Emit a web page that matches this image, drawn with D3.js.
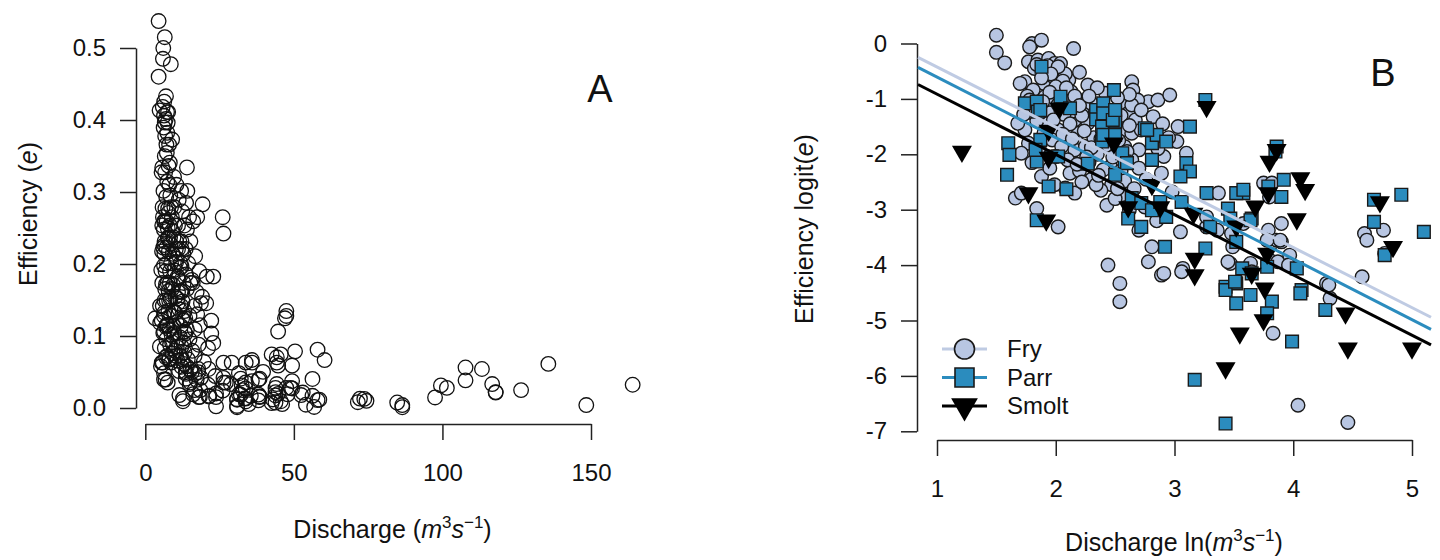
<!DOCTYPE html>
<html>
<head>
<meta charset="utf-8">
<script src="https://cdn.jsdelivr.net/npm/d3@7"></script>
<style>
  body { margin: 0; background: #fff; }
  svg text { font-family: "Liberation Sans", Arial, sans-serif; fill: #111; }
</style>
</head>
<body>
<div id="chart"></div>
<script>
// points as [ln discharge, logit efficiency]; panel A shows the same points back-transformed
var fryPts = [
  [1.50,0.15],[1.50,-0.16],[1.57,-0.35],[1.80,0.00],[1.88,0.06],[1.78,-0.06],[2.15,-0.09],
  [1.77,-0.33],[1.85,-0.30],[1.94,-0.27],[1.99,-0.36],[2.04,-0.36],
  [1.74,-0.69],[1.70,-0.72],[1.90,-0.72],[1.98,-0.60],[2.11,-0.66],[2.27,-0.75],[1.81,-0.84],
  [2.64,-0.69],[2.65,-0.84],[2.78,-1.05],[2.69,-1.02],
  [2.13,-0.87],[2.19,-1.02],[2.25,-1.17],[2.11,-1.08],[2.05,-0.99],
  [1.91,-0.96],[1.97,-1.05],[1.83,-1.11],[2.30,-1.08],[2.33,-1.26],[2.27,-1.44],
  [2.16,-1.38],[2.11,-1.56],[2.19,-1.62],[2.08,-1.74],[2.16,-1.92],[2.25,-1.86],
  [2.58,-1.08],[2.61,-1.26],[2.67,-1.38],[2.56,-1.56],[2.64,-1.62],[2.72,-1.56],[2.58,-1.86],[2.70,-1.92],[2.64,-2.10],
  [1.74,-1.56],[1.68,-1.44],[1.77,-1.80],[1.71,-1.98],
  [2.02,-1.56],[1.97,-1.74],[2.05,-1.86],[2.00,-2.04],[2.86,-1.02],
  [1.66,-2.79],[1.84,-2.98],[2.02,-3.31],[1.71,-2.70],
  [2.12,-2.34],[2.08,-2.61],[2.16,-2.70],
  [2.43,-2.92],[2.44,-4.00],[2.54,-4.33],[2.54,-4.66],
  [2.81,-3.67],[2.78,-3.94],[2.89,-4.18],[2.70,-3.37],
  [2.47,-2.55],[2.56,-2.73],[1.88,-2.40],[1.99,-2.55],
  [2.96,-0.93],[2.64,-1.11],[3.03,-1.50],[3.02,-1.77],[3.10,-1.98],
  [3.05,-3.40],[3.07,-4.06],[3.27,-3.31],[3.36,-3.37],[3.37,-2.70],[3.47,-3.97],
  [3.75,-2.52],[3.80,-2.77],[3.90,-3.25],[3.79,-3.37],[3.86,-3.55],[3.90,-3.58],[3.80,-3.91],[3.87,-3.94],[3.97,-3.82],
  [4.58,-4.21],[4.60,-3.43],[4.62,-3.55],[4.76,-3.37],[4.77,-3.79],
  [2.91,-2.04],[2.89,-2.34],[2.98,-2.68],[3.82,-2.52],
  [3.78,-3.55],[3.89,-3.55],[3.96,-4.00],
  [3.48,-3.43],[3.49,-3.67],[3.45,-3.94],[3.64,-3.97],[3.65,-4.12],[2.91,-4.15],
  [4.28,-4.33],[3.27,-3.13],[3.58,-3.25],
  [3.06,-4.12],[3.83,-5.23],[4.04,-6.53],[4.31,-4.60],[4.46,-6.84],[4.30,-4.36],
  [1.82,-0.45],[1.90,-0.50],[2.00,-0.48],[2.08,-0.55],[2.20,-0.52],[1.76,-0.95],
  [1.86,-1.30],[1.95,-1.25],[2.04,-1.18],[2.14,-1.22],[2.22,-1.30],[2.36,-1.34],
  [2.44,-1.20],[2.40,-1.52],[2.48,-1.64],[2.32,-1.70],[2.44,-1.84],[2.52,-1.95],
  [2.35,-2.00],[2.28,-2.15],[2.46,-2.22],[2.55,-2.30],[2.70,-2.25],[2.76,-2.45],
  [1.92,-1.45],[1.80,-1.25],[2.10,-2.10],[2.20,-2.30],[2.30,-2.45],[2.38,-2.65],
  [1.95,-2.25],[1.80,-2.15],[2.62,-0.92],[2.52,-0.98],[2.72,-1.20],[2.82,-1.32],
  [2.90,-1.45],[2.95,-1.70],[2.86,-1.90],[2.42,-0.90],[2.35,-0.80],
  [1.84,-0.38],[1.93,-0.40],[2.02,-0.42],[1.96,-0.55],[2.06,-0.68],[1.88,-0.62],
  [2.00,-0.78],[2.09,-0.80],[1.95,-0.88],[2.16,-0.95],[2.02,-1.10],[1.89,-1.05],
  [2.07,-1.28],[1.98,-1.38],[2.12,-1.45],[2.20,-1.12],[2.28,-0.95],[2.24,-1.58],
  [2.06,-1.64],[1.90,-1.62],[1.84,-1.40],[2.14,-1.72],[2.30,-1.88],[2.38,-1.72],
  [2.46,-1.42],[2.55,-1.30],[2.62,-1.48],[2.53,-1.75],[2.60,-1.95],[2.48,-2.05],
  [2.40,-2.28],[2.58,-2.48],[2.66,-2.62],[2.34,-2.55],[2.22,-2.50],[2.50,-2.80],
  [2.62,-3.00],[2.75,-2.95],[2.85,-3.20],[1.78,-1.02],[1.73,-1.28],[1.86,-1.88],
  [2.26,-2.05],[2.18,-2.18],[2.36,-2.38],[2.52,-2.62]
];
var parrPts = [
  [1.88,-0.42],[1.74,-1.08],[1.84,-1.05],[1.85,-1.23],[2.04,-0.96],[2.12,-1.17],
  [1.60,-1.80],[1.61,-2.01],[1.59,-2.37],[1.84,-2.13],[1.94,-2.58],[2.09,-2.63],[1.84,-3.19],
  [2.27,-2.17],[2.34,-1.20],[2.34,-1.37],[2.49,-0.84],[1.87,-1.20],[2.40,-1.08],
  [2.50,-1.26],[2.50,-1.41],[2.39,-1.50],[2.39,-1.77],[2.75,-1.53],[2.81,-1.80],[2.85,-1.65],
  [1.87,-1.74],[1.83,-1.92],[1.97,-2.04],[2.02,-2.04],[2.58,-2.13],[2.56,-1.98],[2.81,-2.10],
  [2.50,-2.37],[2.64,-2.79],[2.72,-2.88],[2.61,-3.16],[2.72,-3.31],[2.81,-3.01],[2.88,-2.86],[2.92,-3.67],
  [2.40,-1.26],[2.48,-1.38],[2.50,-1.20],[2.40,-1.65],[2.50,-1.65],
  [3.13,-1.50],[2.77,-1.56],[2.93,-1.77],[3.10,-2.16],[3.13,-2.31],[3.05,-2.40],[2.60,-2.16],
  [3.26,-1.02],[3.26,-3.70],[3.27,-2.70],[3.58,-2.70],[3.52,-2.70],[3.45,-2.98],
  [3.92,-2.46],[3.90,-2.77],[3.65,-3.16],[3.86,-1.86],[3.85,-1.95],[4.03,-4.06],[3.78,-4.03],
  [4.68,-2.82],[4.68,-3.22],[4.91,-2.73],[5.10,-3.40],[4.77,-3.82],
  [3.58,-2.64],[3.47,-3.16],[3.64,-3.19],[3.79,-2.58],[3.06,-2.86],[2.93,-3.13],[3.30,-3.31],
  [3.52,-3.58],[3.57,-4.06],[3.65,-4.15],[3.43,-4.39],[3.52,-4.33],[4.07,-4.45],
  [3.43,-4.45],[3.51,-4.30],[3.52,-4.69],[3.64,-4.54],[3.82,-4.66],[3.78,-4.87],
  [4.06,-4.51],[4.27,-4.81],[3.99,-5.38],[3.17,-6.07],[3.43,-6.86]
];
var smoltPts = [
  [1.21,-1.95],[2.03,-1.17],[1.94,-1.57],[1.94,-2.06],[1.77,-2.70],[1.92,-3.19],
  [2.49,-1.80],[2.61,-2.95],[2.81,-2.55],[2.88,-2.95],[3.27,-1.14],
  [3.86,-1.92],[3.80,-2.13],[4.06,-2.43],[4.10,-2.64],[3.16,-3.07],[3.52,-3.30],
  [3.68,-2.94],[3.79,-2.70],[4.03,-3.17],[3.78,-3.79],[3.17,-3.88],[3.17,-4.18],
  [4.73,-2.86],[4.84,-3.67],[3.65,-4.15],[3.76,-4.42],[3.75,-4.99],[3.55,-5.23],
  [3.43,-5.86],[4.44,-4.87],[4.46,-5.50],[5.00,-5.50]
];

var stageNames = ["Fry", "Parr", "Smolt"];
var lineIntercepts = [0.662, 0.49, 0.174];
var lineSlopes = [-1.086, -1.095, -1.088];

var ticksAx = [0, 50, 100, 150];
var ticksAy = [0, 0.1, 0.2, 0.3, 0.4, 0.5];
var ticksBx = [1, 2, 3, 4, 5];
var ticksBy = [0, -1, -2, -3, -4, -5, -6, -7];

var stageFill = ["#b8c6e2", "#2b8cbe", "#000000"];
var stageLine = ["#bfcbe3", "#2b8cbe", "#000000"];
var stageSymbol = [d3.symbolCircle, d3.symbolSquare, d3.symbolTriangle];
var stagePts = [fryPts, parrPts, smoltPts];

var svg = d3.select("#chart").append("svg")
  .attr("width", 1440)
  .attr("height", 560);

function styleAxis(g) {
  g.attr("font-size", 24);
  g.select(".domain").attr("stroke", "#222").attr("stroke-width", 1.5);
  g.selectAll(".tick line").attr("stroke", "#222").attr("stroke-width", 1.5);
}

// superscript pieces of the discharge unit
function unitLabel(t, prefix) {
  t.append("tspan").text(prefix);
  t.append("tspan").attr("font-style", "italic").text("m");
  t.append("tspan").attr("dy", -10).attr("font-size", 17).text("3");
  t.append("tspan").attr("dy", 10).attr("font-style", "italic").text("s");
  t.append("tspan").attr("dy", -10).attr("font-size", 17).text("\u22121");
  t.append("tspan").attr("dy", 10).text(")");
}

function effLabel(t, prefix) {
  t.append("tspan").text(prefix);
  t.append("tspan").attr("font-style", "italic").text("e");
  t.append("tspan").text(")");
}

// ---- panel A ----
var xA = d3.scaleLinear().domain([0, 150]).range([145.3, 591]);
var yA = d3.scaleLinear().domain([0, 0.5]).range([408, 48]);

svg.append("g")
  .attr("transform", "translate(136,0)")
  .call(d3.axisLeft(yA).tickValues(ticksAy).tickFormat(d3.format(".1f")).tickSize(16).tickPadding(14).tickSizeOuter(0))
  .call(styleAxis);

svg.append("g")
  .attr("transform", "translate(0,424)")
  .call(d3.axisBottom(xA).tickValues(ticksAx).tickFormat(String).tickSize(16).tickPadding(24).tickSizeOuter(0))
  .call(styleAxis);

var allPts = fryPts.concat(parrPts, smoltPts);
svg.append("g").selectAll("circle")
  .data(allPts)
  .join("circle")
  .attr("cx", function (d) { return xA(Math.exp(d[0])); })
  .attr("cy", function (d) { return yA(1 / (1 + Math.exp(-d[1]))); })
  .attr("r", 7.3)
  .attr("fill", "none")
  .attr("stroke", "#111")
  .attr("stroke-width", 1.3);

unitLabel(svg.append("text").attr("x", 392.5).attr("y", 538).attr("text-anchor", "middle").attr("font-size", 25), "Discharge (");
effLabel(svg.append("text").attr("transform", "translate(37,214) rotate(-90)").attr("text-anchor", "middle").attr("font-size", 25), "Efficiency (");
svg.append("text").attr("x", 600).attr("y", 102).attr("text-anchor", "middle").attr("font-size", 38).text("A");

// ---- panel B ----
var xB = d3.scaleLinear().domain([1, 5]).range([937, 1412]);
var yB = d3.scaleLinear().domain([0, -7]).range([43.5, 431.3]);
var xLeft = 0.84, xRight = 5.16;

svg.append("g")
  .attr("transform", "translate(917,0)")
  .call(d3.axisLeft(yB).tickValues(ticksBy).tickFormat(String).tickSize(16).tickPadding(14).tickSizeOuter(0))
  .call(styleAxis);

svg.append("g")
  .attr("transform", "translate(0,440)")
  .call(d3.axisBottom(xB).tickValues(ticksBx).tickFormat(String).tickSize(16).tickPadding(24).tickSizeOuter(0))
  .call(styleAxis);

var symSize = [Math.PI * 6.8 * 6.8, 12.7 * 12.7, 173];
stagePts.forEach(function (pts, i) {
  svg.append("g").selectAll("path")
    .data(pts)
    .join("path")
    .attr("transform", function (d) {
      return "translate(" + xB(d[0]) + "," + yB(d[1]) + ")" + (i === 2 ? " rotate(180)" : "");
    })
    .attr("d", d3.symbol(stageSymbol[i], symSize[i]))
    .attr("fill", stageFill[i])
    .attr("stroke", i === 2 ? "none" : "#1a1a1a")
    .attr("stroke-width", 1.4);
});

stageNames.forEach(function (s, i) {
  svg.append("line")
    .attr("x1", xB(xLeft)).attr("y1", yB(lineIntercepts[i] + lineSlopes[i] * xLeft))
    .attr("x2", xB(xRight)).attr("y2", yB(lineIntercepts[i] + lineSlopes[i] * xRight))
    .attr("stroke", stageLine[i])
    .attr("stroke-width", 3);
});

// legend
var legSize = [Math.PI * 10 * 10, 19 * 19, 310];
var leg = svg.append("g").selectAll("g")
  .data(stageNames)
  .join("g")
  .attr("transform", function (d, i) { return "translate(942," + (349 + i * 28.5) + ")"; });
leg.append("line")
  .attr("x1", 0).attr("x2", 45)
  .attr("stroke", function (d, i) { return stageLine[i]; })
  .attr("stroke-width", 3);
leg.append("path")
  .attr("transform", function (d, i) { return "translate(22.5,0)" + (i === 2 ? " rotate(180)" : ""); })
  .attr("d", function (d, i) { return d3.symbol(stageSymbol[i], legSize[i])(); })
  .attr("fill", function (d, i) { return stageFill[i]; })
  .attr("stroke", function (d, i) { return i === 2 ? "none" : "#1a1a1a"; })
  .attr("stroke-width", 1.6);
leg.append("text")
  .attr("x", 65).attr("dy", "0.35em")
  .attr("font-size", 24)
  .text(function (d) { return d; });

unitLabel(svg.append("text").attr("x", 1174).attr("y", 551).attr("text-anchor", "middle").attr("font-size", 25), "Discharge ln(");
effLabel(svg.append("text").attr("transform", "translate(813,229) rotate(-90)").attr("text-anchor", "middle").attr("font-size", 25), "Efficiency logit(");
svg.append("text").attr("x", 1383).attr("y", 86).attr("text-anchor", "middle").attr("font-size", 38).text("B");
</script>
</body>
</html>
